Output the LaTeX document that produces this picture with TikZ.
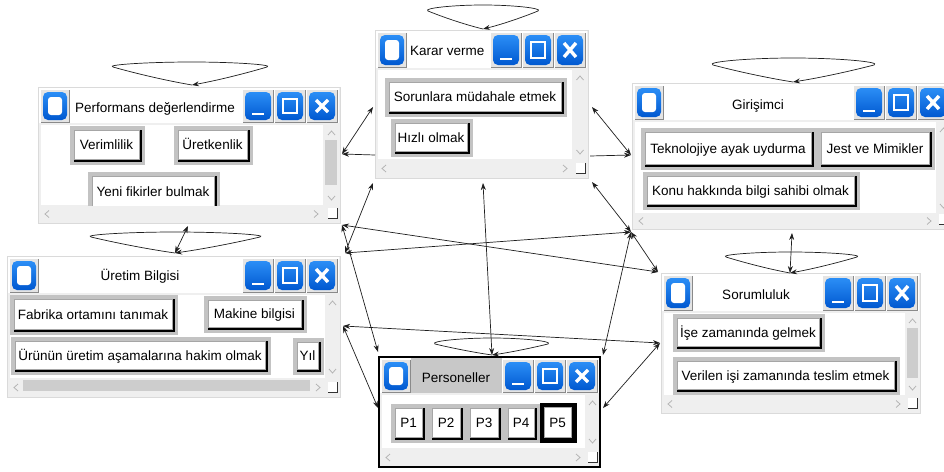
\documentclass[tikz,border=0pt]{standalone}
\usepackage{fontspec}
\setmainfont{Liberation Sans}
\usetikzlibrary{arrows.meta,calc}
\definecolor{winbg}{HTML}{EFEFEF}
\definecolor{winedge}{HTML}{DADADA}
\definecolor{framegray}{HTML}{C3C3C3}
\definecolor{chevgray}{HTML}{B4B4B4}
\definecolor{thumbgray}{HTML}{CDCDCD}
\definecolor{titlegray}{HTML}{C8C8C8}
\definecolor{btnblueT}{HTML}{2B8EF6}
\definecolor{btnblueB}{HTML}{0058D0}
\definecolor{btnedge}{HTML}{8A8A8A}
\definecolor{btnface}{HTML}{E4E4E4}
\definecolor{linecol}{HTML}{1E1E1E}
\tikzset{
  txt/.style={font=\fontsize{13.5pt}{16pt}\selectfont, text=black, inner sep=0pt},
  chev/.style={draw=chevgray, line width=0.8pt},
  conn/.style={draw=linecol, line width=0.7pt},
  biarrow/.style={conn, {Stealth[length=7pt,width=5pt]}-{Stealth[length=7pt,width=5pt]}},
  onearrow/.style={conn, -{Stealth[length=7pt,width=5pt]}},
  winbox/.style={draw=winedge, fill=winbg, line width=0.6pt, inner sep=0pt, outer sep=0pt},
}
\newcommand{\chup}[2]{\draw[chev] ({#1-3.5},{#2+2}) -- ({#1},{#2-2}) -- ({#1+3.5},{#2+2});}
\newcommand{\chdown}[2]{\draw[chev] ({#1-3.5},{#2-2}) -- ({#1},{#2+2}) -- ({#1+3.5},{#2-2});}
\newcommand{\chleft}[2]{\draw[chev] ({#1+2},{#2-3.5}) -- ({#1-2},{#2}) -- ({#1+2},{#2+3.5});}
\newcommand{\chright}[2]{\draw[chev] ({#1-2},{#2-3.5}) -- ({#1+2},{#2}) -- ({#1-2},{#2+3.5});}
\newcommand{\ctlbtn}[5]{%
  \fill[btnface] (#1,#2) rectangle (#3,#4);
  \draw[btnedge, line width=0.8pt] ({#1+0.4},{#4-0.4}) -- ({#3-0.4},{#4-0.4}) -- ({#3-0.4},{#2+0.4});
  \draw[white, line width=0.8pt] ({#1+0.4},{#4-0.4}) -- ({#1+0.4},{#2+0.4}) -- ({#3-0.4},{#2+0.4});
  \shade[top color=btnblueT, bottom color=btnblueB, rounded corners=5pt] ({#1+3},{#2+3}) rectangle ({#3-3},{#4-3});
  \ifcase#5
    \fill[white, rounded corners=3pt] ({#1+8},{#2+8}) rectangle ({#3-8},{#4-8});
  \or
    \draw[white, line width=2.4pt] ({#1+10},{#4-9}) -- ({#3-10},{#4-9});
  \or
    \draw[white, line width=2.4pt] ({#1+9},{#2+10}) rectangle ({#3-9},{#4-10});
  \or
    \draw[white, line width=3.4pt] ({#1+10},{#2+11}) -- ({#3-10},{#4-11}) ({#1+10},{#4-11}) -- ({#3-10},{#2+11});
  \fi
}
% name x1 y1 x2 y2 titlebottom hscrolltop vscrollleft
\newcommand{\winframe}[8]{%
  \node[winbox, minimum width={(#4-#2)*1pt}, minimum height={(#5-#3)*1pt}] (#1) at ({(#2+#4)/2},{(#3+#5)/2}) {};
  \fill[white] ({#2+1},{#3+1}) rectangle ({#4-1},{#6});
  \fill[white] ({#2+3},{#6+2}) rectangle ({#8},{#7});
  \chup{(#8+#4)/2}{#6+10}
  \chdown{(#8+#4)/2}{#7-7}
  \chleft{#2+9}{(#7+#5)/2}
  \chright{#8-7}{(#7+#5)/2}
  \fill[white] ({#4-12},{#5-15}) rectangle ({#4-3},{#5-5});
  \draw[black!80, line width=0.9pt] ({#4-12},{#5-5}) -- ({#4-3},{#5-5}) -- ({#4-3},{#5-15});
  \ctlbtn{#2+2}{#3+2}{#2+32}{#6}{0}
  \ctlbtn{#4-98}{#3+2}{#4-66}{#6}{1}
  \ctlbtn{#4-66}{#3+2}{#4-34}{#6}{2}
  \ctlbtn{#4-34}{#3+2}{#4-2}{#6}{3}
}
% name x1 y1 x2 y2 framecolor text
\newcommand{\itembtn}[7]{%
  \fill[#6] (#2,#3) rectangle (#4,#5);
  \fill[black] ({#2+4},{#3+4}) rectangle ({#4-3},{#5-3});
  \filldraw[fill=white, draw=black!35, line width=0.5pt] ({#2+4.25},{#3+4.25}) rectangle ({#4-6},{#5-6});
  \node[txt, anchor=base] (#1) at ({(#2+#4)/2-1},{(#3+#5)/2+4}) {#7};
}
% point, left dx, right dx, ends dy, top dy
\newcommand{\selfloop}[5]{%
  \draw[onearrow] (#1)
   .. controls ($(#1)+({0.4*(#2)},{0.3*(#4)})$) and ($(#1)+({0.8*(#2)},{0.75*(#4)})$) .. ($(#1)+(#2,#4)$)
   .. controls ($(#1)+({1.1*(#2)},{(#4)+0.45*((#5)-(#4))})$) and ($(#1)+({0.55*(#2)},{#5})$) .. ($(#1)+(0,#5)$)
   .. controls ($(#1)+({0.55*(#3)},{#5})$) and ($(#1)+({1.1*(#3)},{(#4)+0.45*((#5)-(#4))})$) .. ($(#1)+(#3,#4)$)
   .. controls ($(#1)+({0.8*(#3)},{0.75*(#4)})$) and ($(#1)+({0.4*(#3)},{0.3*(#4)})$) .. (#1);
}
\begin{document}
\begin{tikzpicture}[x=1pt,y=-1pt]
\useasboundingbox (0,0) rectangle (944,471);
\clip (0,0) rectangle (944,471);
\fill[white] (0,0) rectangle (944,471);

% ---------- Karar verme ----------
\winframe{kv}{375}{30}{588}{178}{68}{159}{572}
\node[txt, anchor=base west] (kvt) at (410,55.5) {Karar verme};
\itembtn{kv1}{385}{78}{567}{117}{framegray}{Sorunlara müdahale etmek}
\itembtn{kv2}{391}{119}{473}{157}{framegray}{Hızlı olmak}

% ---------- Performans degerlendirme ----------
\winframe{pd}{38}{87}{340}{223}{123}{205}{323}
\fill[thumbgray] (325,140) rectangle (337,185);
\node[txt, anchor=base west] (pdt) at (75,112) {Performans değerlendirme};
\itembtn{pd1}{70}{126}{145}{165}{framegray}{Verimlilik}
\itembtn{pd2}{174}{126}{253}{165}{framegray}{Üretkenlik}
\begin{scope}
  \clip (41,125) rectangle (323,205);
  \itembtn{pd3}{88}{172}{220}{212}{framegray}{Yeni fikirler bulmak}
\end{scope}

% ---------- Girisimci ----------
\winframe{gi}{632}{83}{951}{229}{120}{213}{936}
\node[txt, anchor=base] (git) at (758,109) {Girişimci};
\itembtn{gi1}{641}{128}{817}{170}{framegray}{Teknolojiye ayak uydurma}
\itembtn{gi2}{817}{128}{935}{170}{framegray}{Jest ve Mimikler}
\itembtn{gi3}{643}{172}{860}{210}{framegray}{Konu hakkında bilgi sahibi olmak}

% ---------- Uretim Bilgisi ----------
\winframe{ub}{7}{256}{340}{397}{293}{378}{325}
\fill[thumbgray] (23,380) rectangle (310,391);
\node[txt, anchor=base] (ubt) at (140,280.5) {Üretim Bilgisi};
\itembtn{ub1}{10}{295}{178}{335}{framegray}{Fabrika ortamını tanımak}
\itembtn{ub2}{204}{296}{307}{333}{framegray}{Makine bilgisi}
\itembtn{ub3}{11}{337}{271}{375}{framegray}{Ürünün üretim aşamalarına hakim olmak}
\itembtn{ub4}{293}{338}{324}{375}{framegray}{Yıl}

% ---------- Sorumluluk ----------
\winframe{so}{661}{273}{920}{413}{311}{395}{905}
\fill[thumbgray] (907,328) rectangle (918,378);
\node[txt, anchor=base] (sot) at (756,299.5) {Sorumluluk};
\itembtn{so1}{673}{314}{825}{352}{framegray}{İşe zamanında gelmek}
\itembtn{so2}{673}{357}{900}{395}{framegray}{Verilen işi zamanında teslim etmek}

% ---------- Personeller ----------
\winframe{pe}{379}{357}{600}{467}{393}{448}{585}
\fill[titlegray] (411,358) rectangle (502,393);
\node[txt, anchor=base] (pet) at (456,382) {Personeller};
\itembtn{p1}{391}{404}{428}{443}{framegray}{P1}
\itembtn{p2}{428}{404}{466}{443}{framegray}{P2}
\itembtn{p3}{466}{404}{504}{443}{framegray}{P3}
\itembtn{p4}{504}{404}{540}{443}{framegray}{P4}
\itembtn{p5}{540}{403}{577}{443}{black}{P5}
\draw[black, line width=2pt] (379,357) rectangle (600,467);

% ---------- connector end points ----------
\coordinate (kvloop) at (483,29);
\coordinate (pdloop) at (192,85);
\coordinate (giloop) at (793,82);
\coordinate (ubloop) at (175,253);
\coordinate (soloop) at (790,273);
\coordinate (peloop) at (492,355);
\coordinate (pdR) at (342,154);
\coordinate (kvL1) at (373,107);
\coordinate (kvL2) at (375,155);
\coordinate (kvBL) at (373,183);
\coordinate (ubTR) at (345,253);
\coordinate (pdBR) at (342,225);
\coordinate (soTL) at (658,272);
\coordinate (giBL) at (631,232);
\coordinate (peTL) at (378,352);
\coordinate (ubR) at (343,326);
\coordinate (soL) at (660,343);
\coordinate (peL) at (378,408);
\coordinate (kvB) at (483,183);
\coordinate (peTR) at (603,355);
\coordinate (peR) at (603,408);
\coordinate (kvR1) at (592,107);
\coordinate (giL) at (631,155);
\coordinate (kvR2) at (590,156);
\coordinate (kvBR) at (592,182);
\coordinate (pdB) at (188,226);
\coordinate (giB) at (792,233);

% ---------- self loops ----------
\selfloop{kvloop}{-55}{55}{-18}{-24}
\selfloop{pdloop}{-79}{75}{-18}{-23}
\selfloop{giloop}{-80}{81}{-17}{-24}
\selfloop{ubloop}{-84}{85}{-16}{-21}
\selfloop{soloop}{-64}{67}{-16}{-21}
\selfloop{peloop}{-57}{56}{-11}{-17}

% ---------- connectors ----------
\draw[biarrow] (pdR) -- (kvL1);
\draw[onearrow] (kvL2) -- (pdR);
\draw[biarrow] (kvBL) -- (ubTR);
\draw[biarrow] (pdBR) -- (soTL);
\draw[biarrow] (ubTR) -- (giBL);
\draw[biarrow] (pdBR) -- (peTL);
\draw[biarrow] (ubR) -- (soL);
\draw[biarrow] (ubR) -- (peL);
\draw[biarrow] (kvB) -- (peloop);
\draw[biarrow] (giBL) -- (peTR);
\draw[biarrow] (soL) -- (peR);
\draw[biarrow] (kvR1) -- (giL);
\draw[onearrow] (kvR2) -- (giL);
\draw[biarrow] (kvBR) -- (giBL);
\draw[biarrow] (giBL) -- (soTL);
\draw[biarrow] (pdB) -- (ubloop);
\draw[biarrow] (giB) -- (soloop);
\end{tikzpicture}
\end{document}
